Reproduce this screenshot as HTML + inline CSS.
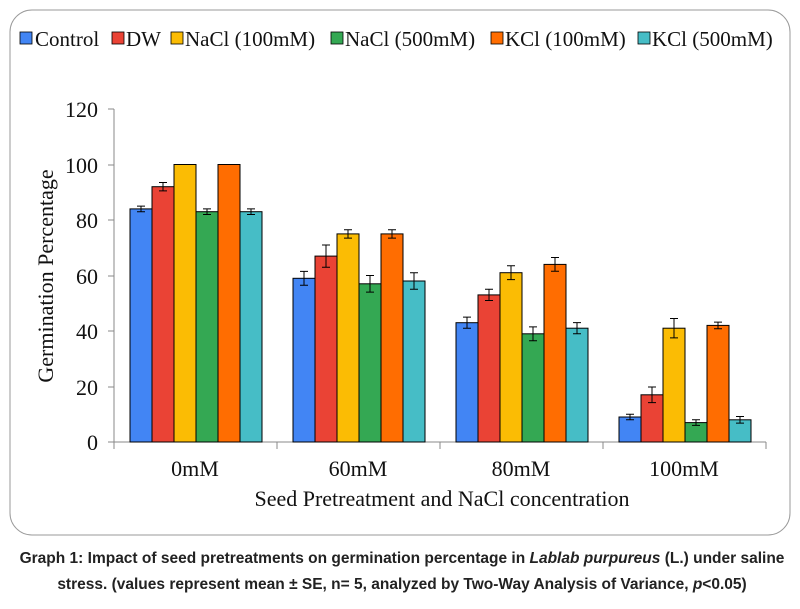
<!DOCTYPE html>
<html><head><style>
body{margin:0;background:#fff;width:800px;height:604px;overflow:hidden}
</style></head><body>
<svg width="800" height="604" xmlns="http://www.w3.org/2000/svg" font-family="Liberation Serif, serif">
<rect x="10" y="10" width="780" height="525" rx="22" fill="#fff" stroke="#9a9a9a" stroke-width="1"/>
<g font-size="21" fill="#111">
<rect x="20" y="32" width="12" height="12" fill="#4285f4" stroke="#000" stroke-width="0.8"/><text x="35" y="46">Control</text>
<rect x="112" y="32" width="12" height="12" fill="#ea4335" stroke="#000" stroke-width="0.8"/><text x="126" y="46">DW</text>
<rect x="171" y="32" width="12" height="12" fill="#fbbc04" stroke="#000" stroke-width="0.8"/><text x="185" y="46">NaCl (100mM)</text>
<rect x="331" y="32" width="12" height="12" fill="#34a853" stroke="#000" stroke-width="0.8"/><text x="345" y="46">NaCl (500mM)</text>
<rect x="491" y="32" width="12" height="12" fill="#ff6d01" stroke="#000" stroke-width="0.8"/><text x="505" y="46">KCl (100mM)</text>
<rect x="638" y="32" width="12" height="12" fill="#46bdc6" stroke="#000" stroke-width="0.8"/><text x="652" y="46">KCl (500mM)</text>
</g>
<g stroke="#888" stroke-width="1">
<line x1="114" y1="109" x2="114" y2="442"/>
<line x1="114" y1="442" x2="766" y2="442"/>
<line x1="108" y1="109" x2="114" y2="109"/><line x1="108" y1="165" x2="114" y2="165"/><line x1="108" y1="220" x2="114" y2="220"/><line x1="108" y1="276" x2="114" y2="276"/><line x1="108" y1="331" x2="114" y2="331"/><line x1="108" y1="387" x2="114" y2="387"/><line x1="108" y1="442" x2="114" y2="442"/>
<line x1="114" y1="442" x2="114" y2="449"/><line x1="277" y1="442" x2="277" y2="449"/><line x1="440" y1="442" x2="440" y2="449"/><line x1="603" y1="442" x2="603" y2="449"/><line x1="766" y1="442" x2="766" y2="449"/>
</g>
<g font-size="22" fill="#111" text-anchor="end">
<text x="98" y="117">120</text><text x="98" y="173">100</text><text x="98" y="228">80</text><text x="98" y="284">60</text><text x="98" y="339">40</text><text x="98" y="395">20</text><text x="98" y="450">0</text>
</g>
<g font-size="22" fill="#111" text-anchor="middle">
<text x="195" y="476">0mM</text><text x="358" y="476">60mM</text><text x="521" y="476">80mM</text><text x="684" y="476">100mM</text>
<text x="442" y="506">Seed Pretreatment and NaCl concentration</text>
<text transform="translate(53,276) rotate(-90)">Germination Percentage</text>
</g>
<g stroke="#000" stroke-width="1">
<rect x="130" y="208.9" width="22" height="233.1" fill="#4285f4"/>
<rect x="293" y="278.3" width="22" height="163.7" fill="#4285f4"/>
<rect x="456" y="322.7" width="22" height="119.3" fill="#4285f4"/>
<rect x="619" y="417" width="22" height="25" fill="#4285f4"/>
<rect x="152" y="186.7" width="22" height="255.3" fill="#ea4335"/>
<rect x="315" y="256.1" width="22" height="185.9" fill="#ea4335"/>
<rect x="478" y="294.9" width="22" height="147.1" fill="#ea4335"/>
<rect x="641" y="394.8" width="22" height="47.2" fill="#ea4335"/>
<rect x="174" y="164.5" width="22" height="277.5" fill="#fbbc04"/>
<rect x="337" y="233.9" width="22" height="208.1" fill="#fbbc04"/>
<rect x="500" y="272.7" width="22" height="169.3" fill="#fbbc04"/>
<rect x="663" y="328.2" width="22" height="113.8" fill="#fbbc04"/>
<rect x="196" y="211.7" width="22" height="230.3" fill="#34a853"/>
<rect x="359" y="283.8" width="22" height="158.2" fill="#34a853"/>
<rect x="522" y="333.8" width="22" height="108.2" fill="#34a853"/>
<rect x="685" y="422.6" width="22" height="19.4" fill="#34a853"/>
<rect x="218" y="164.5" width="22" height="277.5" fill="#ff6d01"/>
<rect x="381" y="233.9" width="22" height="208.1" fill="#ff6d01"/>
<rect x="544" y="264.4" width="22" height="177.6" fill="#ff6d01"/>
<rect x="707" y="325.4" width="22" height="116.6" fill="#ff6d01"/>
<rect x="240" y="211.7" width="22" height="230.3" fill="#46bdc6"/>
<rect x="403" y="281" width="22" height="161" fill="#46bdc6"/>
<rect x="566" y="328.2" width="22" height="113.8" fill="#46bdc6"/>
<rect x="729" y="419.8" width="22" height="22.2" fill="#46bdc6"/>
</g>
<g stroke="#000" stroke-width="1" fill="none">
<path d="M137 206.1H145M141 206.1V211.7M137 211.7H145"/>
<path d="M300 271.4H308M304 271.4V285.2M300 285.2H308"/>
<path d="M463 317.1H471M467 317.1V328.3M463 328.3H471"/>
<path d="M626 414.2H634M630 414.2V419.8M626 419.8H634"/>
<path d="M159 182.5H167M163 182.5V190.9M159 190.9H167"/>
<path d="M322 245H330M326 245V267.2M322 267.2H330"/>
<path d="M485 289.3H493M489 289.3V300.5M485 300.5H493"/>
<path d="M648 387H656M652 387V402.6M648 402.6H656"/>
<path d="M344 229.7H352M348 229.7V238.1M344 238.1H352"/>
<path d="M507 265.8H515M511 265.8V279.6M507 279.6H515"/>
<path d="M670 318.5H678M674 318.5V337.9M670 337.9H678"/>
<path d="M203 208.9H211M207 208.9V214.5M203 214.5H211"/>
<path d="M366 275.5H374M370 275.5V292.1M366 292.1H374"/>
<path d="M529 326.9H537M533 326.9V340.7M529 340.7H537"/>
<path d="M692 419.8H700M696 419.8V425.4M692 425.4H700"/>
<path d="M388 229.7H396M392 229.7V238.1M388 238.1H396"/>
<path d="M551 257.5H559M555 257.5V271.3M551 271.3H559"/>
<path d="M714 322.1H722M718 322.1V328.7M714 328.7H722"/>
<path d="M247 208.9H255M251 208.9V214.5M247 214.5H255"/>
<path d="M410 272.7H418M414 272.7V289.3M410 289.3H418"/>
<path d="M573 322.6H581M577 322.6V333.8M573 333.8H581"/>
<path d="M736 416.5H744M740 416.5V423.1M736 423.1H744"/>
</g>
<g font-family="Liberation Sans, sans-serif" font-weight="bold" font-size="15.5" fill="#222" text-anchor="middle">
<text x="402" y="563">Graph 1: Impact of seed pretreatments on germination percentage in <tspan font-style="italic">Lablab purpureus</tspan> (L.) under saline</text>
<text x="402" y="589">stress. (values represent mean ± SE, n= 5, analyzed by Two-Way Analysis of Variance, <tspan font-style="italic">p</tspan>&lt;0.05)</text>
</g>
</svg>
</body></html>
